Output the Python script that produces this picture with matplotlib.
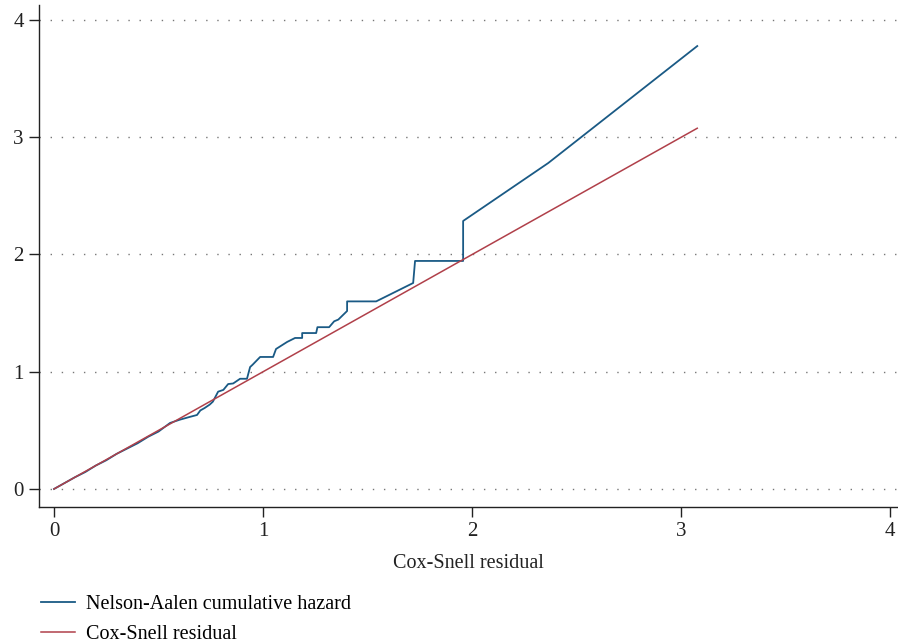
import matplotlib.pyplot as plt
import numpy as np

# Cox-Snell residual (x) and Nelson-Aalen cumulative hazard (y)
cs_resid = [0, 0.05, 0.1, 0.15, 0.2, 0.25, 0.3, 0.35, 0.4, 0.45, 0.5, 0.555,
            0.6, 0.65, 0.684, 0.70, 0.72, 0.745, 0.76, 0.785, 0.81, 0.833,
            0.857, 0.89, 0.923, 0.938, 0.95, 0.986, 1.048, 1.062, 1.115,
            1.153, 1.187, 1.187, 1.254, 1.26, 1.316, 1.34, 1.36, 1.402,
            1.402, 1.541, 1.718, 1.727, 1.957, 1.957, 2.364, 3.077]
na_hazard = [0, 0.05, 0.1, 0.145, 0.2, 0.245, 0.3, 0.345, 0.39, 0.445, 0.49,
             0.563, 0.59, 0.615, 0.631, 0.67, 0.69, 0.72, 0.745, 0.83, 0.845,
             0.895, 0.9, 0.94, 0.94, 1.04, 1.06, 1.126, 1.126, 1.194, 1.254,
             1.288, 1.288, 1.33, 1.33, 1.38, 1.38, 1.43, 1.445, 1.518, 1.60,
             1.60, 1.757, 1.945, 1.945, 2.286, 2.78, 3.778]
ticks = [0, 1, 2, 3, 4]

plt.rcParams['font.family'] = ['Liberation Serif', 'DejaVu Serif']

fig = plt.figure(figsize=(8.98, 6.44), dpi=100)
ax = fig.add_axes([0.0434, 0.2127, 0.9556, 0.7795])

# 45 degree reference line
ref = np.array([0, max(cs_resid)])
l1, = ax.plot(cs_resid, na_hazard, color='#1a5a85', linewidth=1.3,
              label='Nelson-Aalen cumulative hazard')
l2, = ax.plot(ref, ref, color='#b0404a', linewidth=1.1,
              label='Cox-Snell residual')

ax.set_xlim(-0.072, 4.033)
ax.set_ylim(-0.154, 4.128)
ax.set_xticks(ticks)
ax.set_yticks(ticks)
ax.tick_params(labelsize=15, length=7, width=1, colors='#222222', pad=4)
ax.set_xlabel('Cox-Snell residual', fontsize=14.5, color='#222222', labelpad=9)

for t in ticks:
    ax.axhline(t, color='#777777', linewidth=1, linestyle=(0, (1, 7)), zorder=0)

for side in ['top', 'right']:
    ax.spines[side].set_visible(False)
for side in ['left', 'bottom']:
    ax.spines[side].set_linewidth(1)
    ax.spines[side].set_color('#222222')

fig.legend(handles=[l1, l2], loc='upper left', bbox_to_anchor=(0.037, 0.088),
           frameon=False, fontsize=14.5, handlelength=1.65, handletextpad=0.55,
           labelspacing=0.5, borderaxespad=0)

fig.savefig('out.png', dpi=100)
